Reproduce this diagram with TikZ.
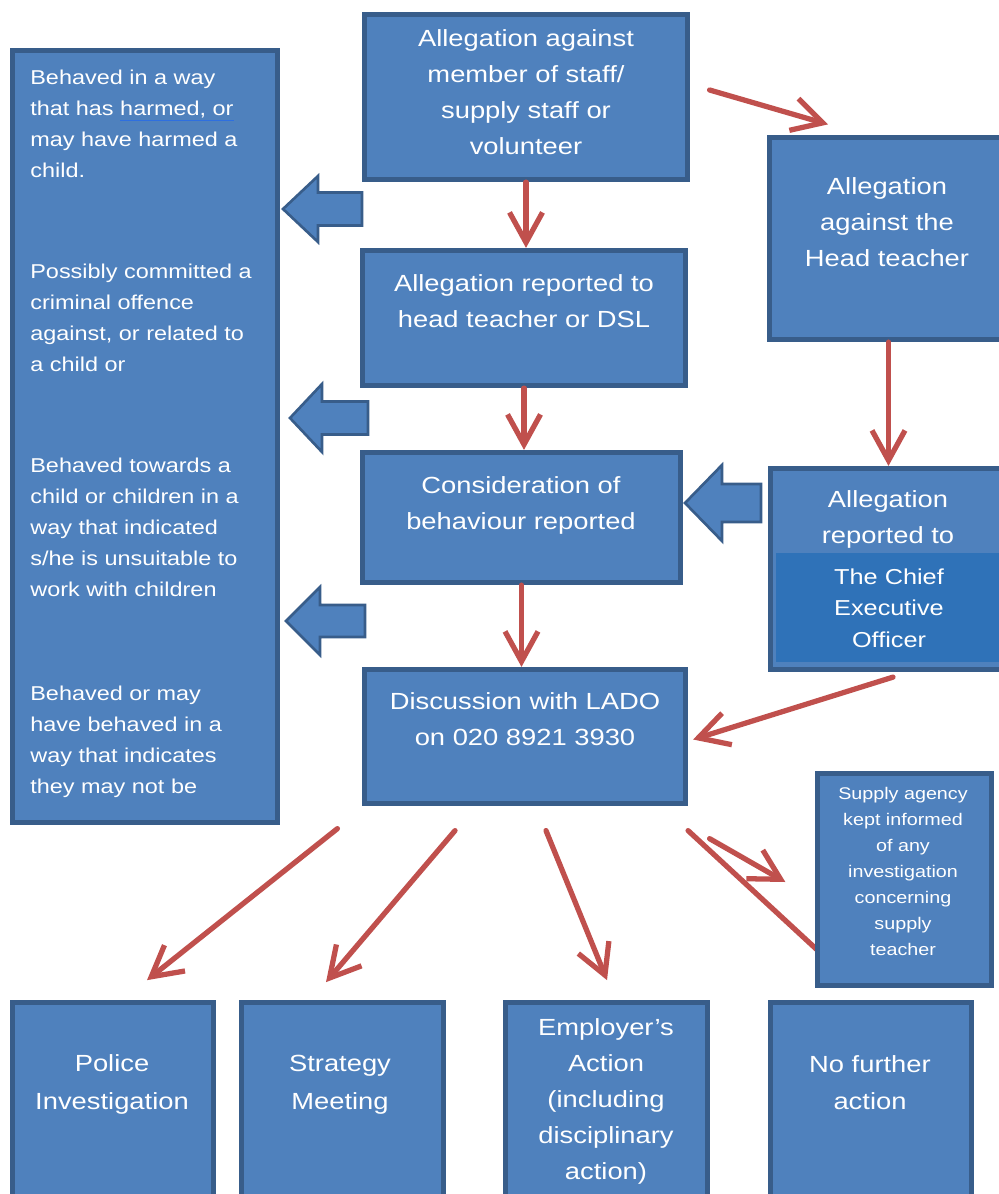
\documentclass[tikz,border=0pt]{standalone}
\usepackage{fontspec}
\setmainfont{Liberation Sans}[FakeStretch=1.17]
\usepackage{tikz}
\usetikzlibrary{arrows.meta}
\definecolor{boxfill}{HTML}{4F81BD}
\definecolor{boxline}{HTML}{385D8A}
\definecolor{ceofill}{HTML}{2F72B8}
\definecolor{arrowred}{HTML}{C0504D}
\definecolor{linkblue}{HTML}{2E6FE0}
\begin{document}
\begin{tikzpicture}[line cap=round,line join=round,>={Straight Barb[length=6mm,width=6.6mm]},x=0.02cm,y=-0.02cm,
  box/.style={draw=boxline,fill=boxfill,line width=3pt,line join=miter,inner sep=0pt},
  boxtext/.style={text=white,align=center,inner sep=0pt,font=\fontsize{13.3}{20.5}\selectfont},
  sidetext/.style={text=white,align=left,anchor=north west,inner sep=0pt,font=\fontsize{11.4}{17.6}\selectfont},
  flow/.style={->,draw=arrowred,line width=3pt},
  blockarrow/.style={draw=boxline,fill=boxfill,line width=1.5pt,line join=miter}]
\useasboundingbox (0,0) rectangle (999,1194);
\clip (0,0) rectangle (999,1194);
% boxes
\node[box,minimum width=5.3cm,minimum height=15.44cm] (side) at (145,436.5) {};
\node[box,minimum width=6.46cm,minimum height=3.3cm] (top) at (526,97) {};
\node[box,minimum width=6.46cm,minimum height=2.7cm] (rep) at (524,318) {};
\node[box,minimum width=4.76cm,minimum height=4.04cm] (head) at (888.5,238.5) {};
\node[box,minimum width=6.36cm,minimum height=2.6cm] (cons) at (521.5,517.5) {};
\node[box,minimum width=4.74cm,minimum height=4.02cm] (chief) at (889,569) {};
\node[fill=ceofill,inner sep=0pt,minimum width=4.68cm,minimum height=2.18cm] (ceo) at (893,607.5) {};
\node[box,minimum width=6.42cm,minimum height=2.68cm] (disc) at (525,736.5) {};
\node[box,minimum width=4.02cm,minimum height=4.55cm] (police) at (113,1116) {};
\node[box,minimum width=4.04cm,minimum height=4.55cm] (strat) at (342.5,1116) {};
\node[box,minimum width=4.04cm,minimum height=4.55cm] (emp) at (606.5,1116) {};
\node[box,minimum width=4.02cm,minimum height=4.55cm] (nofurther) at (871,1116) {};
% block arrows
\foreach \tx/\ty/\ex/\hl/\hh/\sh in {283/209/362/35/33/16.5, 290/418/368/32/34/16.5, 286/621/365/34/34/16, 685/503/761/37/38/19} {
  \draw[blockarrow] (\tx,\ty) -- ({\tx+\hl},{\ty-\hh}) -- ({\tx+\hl},{\ty-\sh}) -- (\ex,{\ty-\sh})
    -- (\ex,{\ty+\sh}) -- ({\tx+\hl},{\ty+\sh}) -- ({\tx+\hl},{\ty+\hh}) -- cycle;
}
% texts
\node[sidetext] (para1) at (30,70) {Behaved in a way\\that has {\color{linkblue}\underline{\color{white}harmed, or}}\\may have harmed a\\child.};
\node[sidetext] (para2) at (30,264) {Possibly committed a\\criminal offence\\against, or related to\\a child or};
\node[sidetext] (para3) at (30,458) {Behaved towards a\\child or children in a\\way that indicated\\s/he is unsuitable to\\work with children};
\node[sidetext] (para4) at (30,686) {Behaved or may\\have behaved in a\\way that indicates\\they may not be};
\node[boxtext] (toptext) at (526,92) {Allegation against\\member of staff/\\supply staff or\\volunteer};
\node[boxtext] (reptext) at (524,301) {Allegation reported to\\head teacher or DSL};
\node[boxtext] (headtext) at (887,222) {Allegation\\against the\\Head teacher};
\node[boxtext] (constext) at (521,505.5) {Consideration of\\behaviour reported};
\node[boxtext] (chieftext) at (888,519.5) {Allegation\\reported to};
\node[boxtext,font=\fontsize{12.3}{17.9}\selectfont] (ceotext) at (889,608) {The Chief\\Executive\\Officer};
\node[boxtext] (disctext) at (525,719) {Discussion with LADO\\on 020 8921 3930};
\node[boxtext,font=\fontsize{13.3}{21.6}\selectfont] (policetext) at (112,1084.5) {Police\\Investigation};
\node[boxtext,font=\fontsize{13.3}{21.6}\selectfont] (strattext) at (340,1084.5) {Strategy\\Meeting};
\node[boxtext] (emptext) at (606,1101.5) {Employer's\\Action\\(including\\disciplinary\\action)};
\node[boxtext,font=\fontsize{13.3}{21}\selectfont] (nftext) at (870,1083) {No further\\action};
% connectors
\draw[flow] (top.south) -- (top.south |- rep.north);
\draw[flow] (rep.south) -- (rep.south |- cons.north);
\draw[flow] (cons.south) -- (cons.south |- disc.north);
\draw[flow] (head.south) -- (head.south |- chief.north);
\draw[flow] ([shift={(19.5,-7)}]top.east) -- ([shift={(-60.5,-10.5)}]head.north);
\draw[flow] ([shift={(4,5)}]chief.south) -- ([shift={(5,3)}]disc.east);
\draw[flow] ([shift={(-24.5,22.5)}]disc.south west) -- ([shift={(34,-19.5)}]police.north);
\draw[flow] ([shift={(-70,24.5)}]disc.south) -- ([shift={(-16.5,-17.5)}]strat.north);
\draw[flow] ([shift={(21,24.5)}]disc.south) -- ([shift={(0.5,-19.5)}]emp.north);
\draw[flow,-,shorten >=0.9cm] ([shift={(0,24.5)}]disc.south east) -- (nofurther.north);
% supply agency box sits over the line
\node[box,minimum width=3.48cm,minimum height=4.24cm] (supply) at (904.5,879.5) {};
\node[boxtext,font=\fontsize{9.6}{14.8}\selectfont] (supplytext) at (903,871) {Supply agency\\kept informed\\of any\\investigation\\concerning\\supply\\teacher};
\draw[flow] ([shift={(21.5,32.5)}]disc.south east) -- ([shift={(-29.5,2.5)}]supply.west);
\end{tikzpicture}
\end{document}
